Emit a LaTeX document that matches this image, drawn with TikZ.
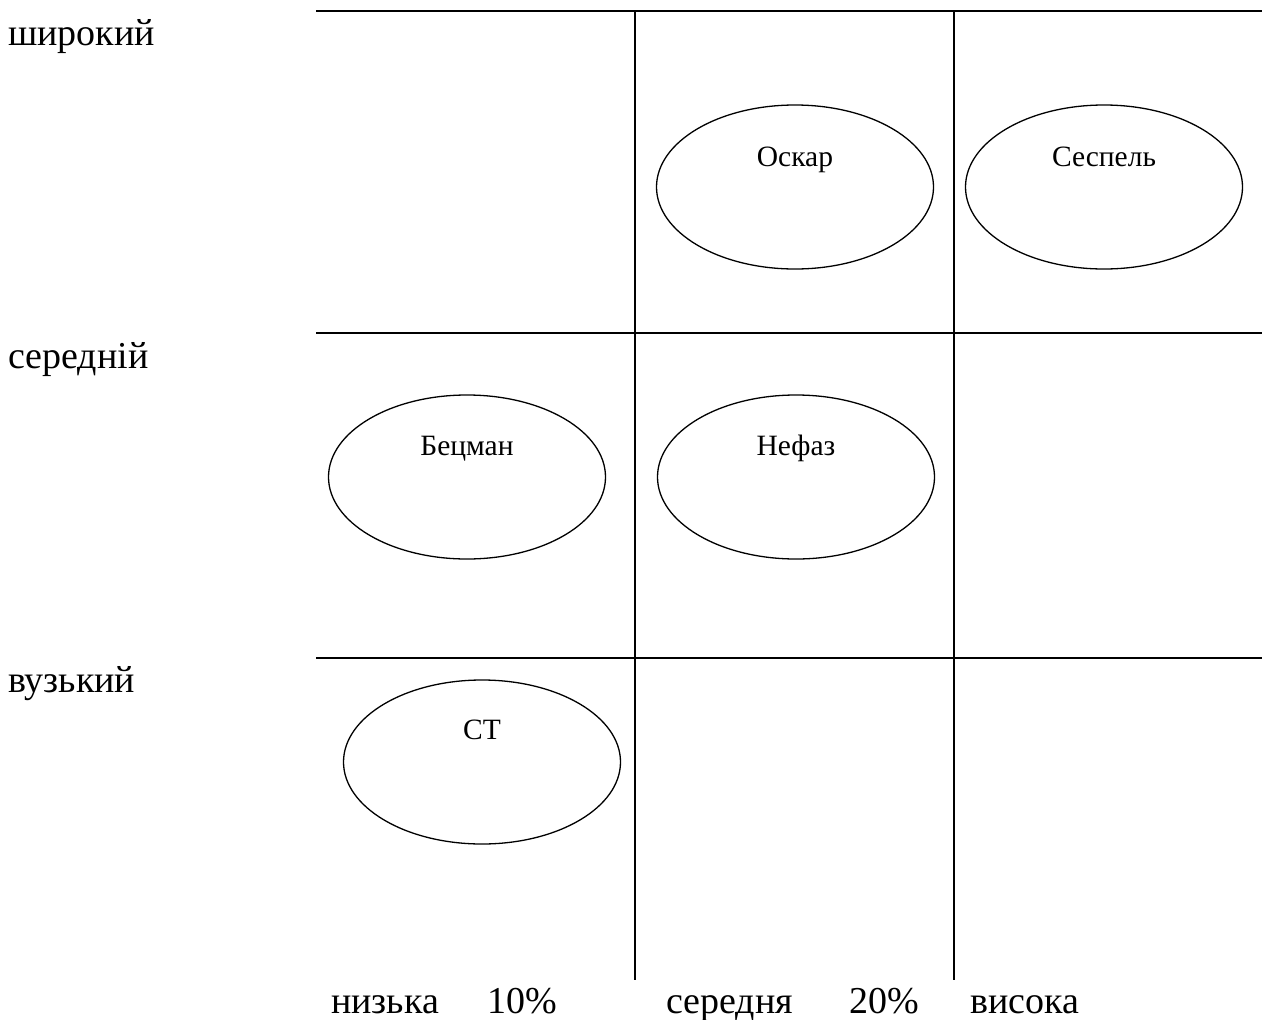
\documentclass[tikz,border=0pt]{standalone}
\usepackage{fontspec}
\setmainfont{Liberation Serif}
\usetikzlibrary{shapes.geometric,positioning}
\tikzset{
  rejilla/.style={draw=black,line width=1.6pt},
  ovalo/.style={draw=black,line width=1.3pt,ellipse,minimum width=277pt,
                minimum height=164pt,inner sep=0pt},
  nombre/.style={font=\fontsize{29.5}{32}\selectfont,inner sep=0pt,anchor=base},
  eje/.style={font=\fontsize{38}{40}\selectfont,inner sep=0pt,anchor=base west},
}
\begin{document}
\begin{tikzpicture}[x=1pt,y=-1pt]
\useasboundingbox (0,0) rectangle (1262,1020);

% ---------------- rejilla ----------------
\coordinate (h1a) at (316,11);  \coordinate (h1b) at (1262,11);
\coordinate (h2a) at (316,333); \coordinate (h2b) at (1262,333);
\coordinate (h3a) at (316,658); \coordinate (h3b) at (1262,658);
\coordinate (v1a) at (635,11);  \coordinate (v1b) at (635,980);
\coordinate (v2a) at (954,11);  \coordinate (v2b) at (954,980);
\draw[rejilla] (h1a) -- (h1b);
\draw[rejilla] (h2a) -- (h2b);
\draw[rejilla] (h3a) -- (h3b);
\draw[rejilla] (v1a) -- (v1b);
\draw[rejilla] (v2a) -- (v2b);

% ---------------- ovalos ----------------
\node[ovalo] (oskar)   at (795,187) {};
\node[ovalo] (sespel)  at (1104,187) {};
\node[ovalo] (becman)  at (467,477) {};
\node[ovalo] (nefaz)   at (796,477) {};
\node[ovalo] (st)      at (482,762) {};

\node[nombre] (toskar)  at (795,166) {Оскар};
\node[nombre] (tsespel) at (1104,166) {Сеспель};
\node[nombre] (tbecman) at (467,455) {Бецман};
\node[nombre] (tnefaz)  at (796,455) {Нефаз};
\node[nombre] (tst)     at (482,739) {СТ};

% ---------------- ejes ----------------
\node[eje] (ancho)  at (8,45)  {широкий};
\node[eje] (medio)  at (8,368) {середній};
\node[eje] (estre)  at (8,692) {вузький};

\node[eje] (baja)   at (331,1013) {низька};
\node[eje] (p10)    at (487,1013) {10\%};
\node[eje] (media)  at (666,1013) {середня};
\node[eje] (p20)    at (849,1013) {20\%};
\node[eje] (alta)   at (970,1013) {висока};

\end{tikzpicture}
\end{document}
